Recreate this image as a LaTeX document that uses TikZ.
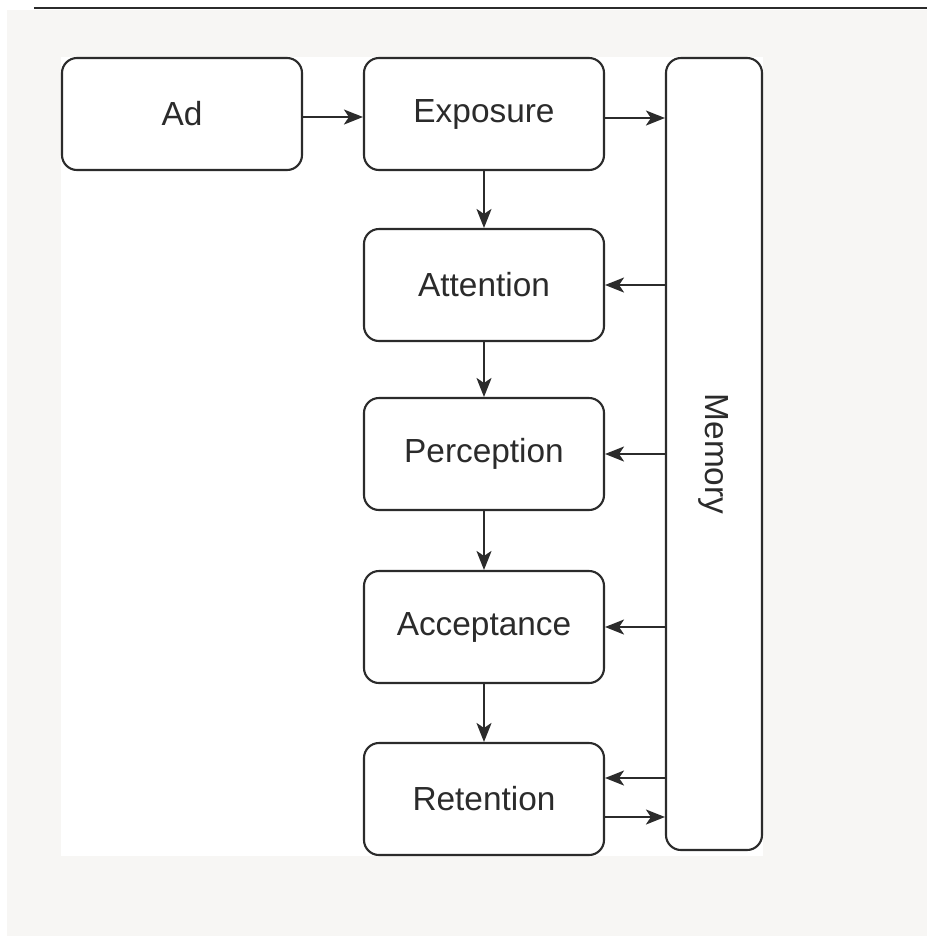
\documentclass[tikz,border=0pt]{standalone}
\usepackage{fontspec}
\setmainfont{Liberation Sans}
\usetikzlibrary{calc,arrows.meta}
\definecolor{pagegray}{HTML}{F7F6F4}
\definecolor{inkgray}{HTML}{2B2B2B}
\tikzset{
	stage/.style={draw=inkgray,line width=1.2pt,rounded corners=0.3cm,fill=white,
		minimum width=4.8cm,minimum height=2.24cm,text=inkgray,font=\fontsize{19}{22}\selectfont},
	flow/.style={draw=inkgray,line width=1.2pt,-{Stealth[length=0.38cm,width=0.3cm,inset=0.1cm]}}
}
\newcommand{\makestage}[3]{
	\node (#1) at (#2) [stage] {#3};
}

\begin{document}
\begin{tikzpicture}
		\useasboundingbox (0,0) rectangle (18.54,-18.72);
		\fill[pagegray] (0.14,-0.2) rectangle (18.54,-18.72);
		\fill[white] (1.22,-1.14) rectangle (15.26,-17.12);
		\draw[inkgray,line width=1.1pt] (0.68,-0.16) -- (18.54,-0.16);
		\makestage{ad}{3.64,-2.28}{Ad}
		\makestage{exposure}{9.68,-2.28}{Exposure}
		\makestage{attention}{9.68,-5.7}{Attention}
		\makestage{perception}{9.68,-9.08}{Perception}
		\makestage{acceptance}{9.68,-12.54}{Acceptance}
		\makestage{retention}{9.68,-15.98}{Retention}
		\node (memory) at (14.28,-9.08) [stage,minimum width=1.92cm,minimum height=15.84cm] {};
		\node (memtext) at (memory) [rotate=-90,text=inkgray,font=\fontsize{19}{22}\selectfont] {Memory};
		\coordinate (adout) at ($(ad.east)+(0,-0.06)$);
		\coordinate (expout) at ($(exposure.east)+(0,-0.08)$);
		\coordinate (retin) at ($(retention.east)+(0,0.42)$);
		\coordinate (retout) at ($(retention.east)+(0,-0.36)$);
		\draw[flow] (adout) -- (adout -| exposure.west);
		\draw[flow] (expout) -- (expout -| memory.west);
		\draw[flow] (exposure) -- (attention);
		\draw[flow] (attention) -- (perception);
		\draw[flow] (perception) -- (acceptance);
		\draw[flow] (acceptance) -- (retention);
		\draw[flow] (attention.east -| memory.west) -- (attention.east);
		\draw[flow] (perception.east -| memory.west) -- (perception.east);
		\draw[flow] (acceptance.east -| memory.west) -- (acceptance.east);
		\draw[flow] (retin -| memory.west) -- (retin);
		\draw[flow] (retout) -- (retout -| memory.west);
	\end{tikzpicture}
\end{document}
